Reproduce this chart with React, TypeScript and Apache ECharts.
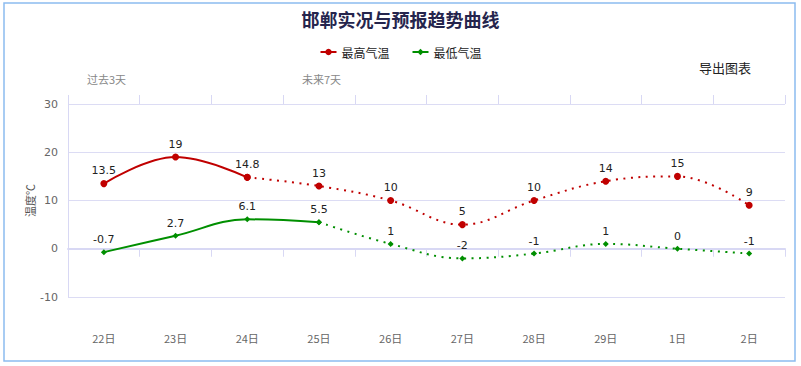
import React, { useEffect, useRef } from "react";
import * as echarts from "echarts";

const categories = ["22日", "23日", "24日", "25日", "26日", "27日", "28日", "29日", "1日", "2日"];
const maxTemp = [13.5, 19, 14.8, 13, 10, 5, 10, 14, 15, 9];
const minTemp = [-0.7, 2.7, 6.1, 5.5, 1, -2, -1, 1, 0, -1];
const maxSolidEnd = 2; // index where observed (solid) part ends
const minSolidEnd = 3;
const yTicks = { min: -10, max: 30, interval: 10 };

const RED = "#c00000";
const GREEN = "#008f00";

function split(arr: number[], end: number) {
  const solid = arr.map((v, i) => (i <= end ? v : null));
  const dotted = arr.map((v, i) => (i >= end ? v : null));
  return { solid, dotted };
}

export default function App() {
  const ref = useRef<HTMLDivElement>(null);
  useEffect(() => {
    document.body.style.margin = "0";
    const chart = echarts.init(ref.current!, null, { renderer: "svg" });
    const mx = split(maxTemp, maxSolidEnd);
    const mn = split(minTemp, minSolidEnd);
    const labelCfg = {
      show: true,
      position: "top" as const,
      distance: 4,
      color: "#222",
      fontSize: 11,
      fontFamily: "DejaVu Sans",
    };
    const axisColor = "#d8d8f4";
    chart.setOption({
      animation: false,
      textStyle: { fontFamily: "Microsoft YaHei, Noto Sans CJK SC, sans-serif" },
      title: {
        text: "邯郸实况与预报趋势曲线",
        left: "center",
        top: 5,
        textStyle: { fontSize: 18, fontWeight: "bold", color: "#25254d", fontFamily: "Noto Sans CJK SC" },
      },
      legend: {
        top: 41,
        left: "center",
        itemWidth: 16,
        itemHeight: 8,
        itemGap: 22,
        textStyle: { fontSize: 12, color: "#222", fontFamily: "Noto Sans CJK SC" },
        data: ["最高气温", "最低气温"],
      },
      grid: { left: 68, right: 16, top: 104, bottom: 69 },
      xAxis: [
        {
          type: "category",
          data: categories,
          position: "bottom",
          offset: 28,
          boundaryGap: true,
          axisLine: { show: true, lineStyle: { color: axisColor, width: 2 } },
          axisTick: { show: true, length: 8, lineStyle: { color: axisColor } },
          axisLabel: { color: "#666", fontSize: 11, margin: 7, fontFamily: "Noto Sans CJK SC" },
          splitLine: { show: false },
        },
        {
          type: "category",
          data: categories,
          position: "top",
          boundaryGap: true,
          axisLine: { show: false },
          axisTick: { show: true, length: 9, lineStyle: { color: axisColor } },
          axisLabel: { show: false },
          splitLine: { show: false },
        },
      ],
      yAxis: {
        type: "value",
        min: yTicks.min,
        max: yTicks.max,
        interval: yTicks.interval,
        name: "温度℃",
        nameLocation: "middle",
        nameGap: 33,
        nameMoveOverlap: false,
        nameTextStyle: { color: "#555", fontSize: 11, fontFamily: "Noto Sans CJK SC" },
        axisLine: { show: true, lineStyle: { color: axisColor } },
        axisTick: { show: false },
        axisLabel: { color: "#666", fontSize: 11, margin: 10, fontFamily: "DejaVu Sans" },
        splitLine: { show: true, lineStyle: { color: "#dcdcf4", width: 1 } },
      },
      graphic: [
        {
          type: "rect",
          shape: { x: 4, y: 3, width: 791, height: 358 },
          style: { fill: "none", stroke: "#8cbcf0", lineWidth: 1.5 },
          silent: true,
        },
        {
          type: "text",
          left: 699,
          top: 61,
          style: { text: "导出图表", fontSize: 13, fill: "#222", fontFamily: "Noto Sans CJK SC" },
        },
        {
          type: "text",
          left: 87,
          top: 73,
          style: { text: "过去3天", fontSize: 11, fill: "#888", fontFamily: "Noto Sans CJK SC" },
        },
        {
          type: "text",
          left: 302,
          top: 73,
          style: { text: "未来7天", fontSize: 11, fill: "#888", fontFamily: "Noto Sans CJK SC" },
        },
      ],
      series: [
        {
          name: "最高气温",
          type: "line",
          data: mx.solid,
          smooth: 0.4,
          symbol: "circle",
          symbolSize: 7,
          itemStyle: { color: RED },
          lineStyle: { color: RED, width: 2 },
          label: labelCfg,
          z: 3,
        },
        {
          name: "最高气温",
          type: "line",
          data: mx.dotted,
          smooth: 0.4,
          symbol: "circle",
          symbolSize: 7,
          itemStyle: { color: RED },
          lineStyle: { color: RED, width: 2, type: [2, 5.5] },
          label: { ...labelCfg, formatter: (p: any) => (p.dataIndex === maxSolidEnd ? "" : String(p.value)) },
          z: 3,
        },
        {
          name: "最低气温",
          type: "line",
          data: mn.solid,
          smooth: 0.4,
          symbol: "diamond",
          symbolSize: 6,
          itemStyle: { color: GREEN },
          lineStyle: { color: GREEN, width: 2 },
          label: labelCfg,
          z: 3,
        },
        {
          name: "最低气温",
          type: "line",
          data: mn.dotted,
          smooth: 0.4,
          symbol: "diamond",
          symbolSize: 6,
          itemStyle: { color: GREEN },
          lineStyle: { color: GREEN, width: 2, type: [2, 5.5] },
          label: { ...labelCfg, formatter: (p: any) => (p.dataIndex === minSolidEnd ? "" : String(p.value)) },
          z: 3,
        },
      ],
    });
    return () => chart.dispose();
  }, []);
  return <div ref={ref} style={{ width: 801, height: 366 }} />;
}
